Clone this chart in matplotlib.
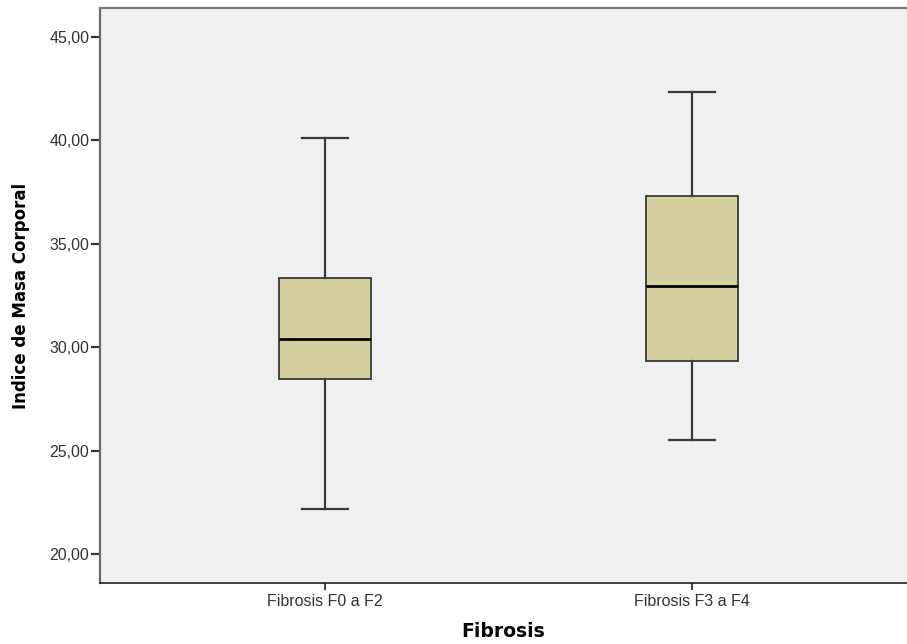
import matplotlib
matplotlib.use("Agg")
import matplotlib.pyplot as plt

plt.rcParams["font.family"] = ["DejaVu Sans"]

# box statistics
groups = ["Fibrosis F0 a F2", "Fibrosis F3 a F4"]
whisker_low = [22.2, 25.5]
q1 = [28.45, 29.35]
median = [30.4, 32.95]
q3 = [33.35, 37.3]
whisker_high = [40.1, 42.35]
yticks = [20, 25, 30, 35, 40, 45]

BOX_FILL = "#d3cf9f"
EDGE = "#3a3a3a"
TICK_FONT = ["Liberation Sans", "DejaVu Sans"]

fig = plt.figure(figsize=(9.07, 6.44), dpi=100)
ax = fig.add_axes([0.110, 0.0947, 0.890, 0.893])
ax.set_facecolor("#f0f0f0")

stats = []
for i, g in enumerate(groups):
    stats.append({
        "label": g, "whislo": whisker_low[i], "q1": q1[i], "med": median[i],
        "q3": q3[i], "whishi": whisker_high[i], "fliers": [],
    })

ax.bxp(
    stats, positions=[1, 2], widths=0.25, patch_artist=True, showfliers=False,
    boxprops=dict(facecolor=BOX_FILL, edgecolor=EDGE, linewidth=1.3),
    medianprops=dict(color="black", linewidth=2),
    whiskerprops=dict(color=EDGE, linewidth=1.6),
    capprops=dict(color=EDGE, linewidth=1.6),
    capwidths=0.125,
)

ax.set_xlim(0.387, 2.586)
ax.set_ylim(18.6, 46.4)
ax.set_yticks(yticks)
ax.set_yticklabels([f"{v:.2f}".replace(".", ",") for v in yticks])
for lbl in ax.get_xticklabels() + ax.get_yticklabels():
    lbl.set_family(TICK_FONT)

ax.spines["right"].set_visible(False)
ax.spines["left"].set_color("#6a6a6a")
ax.spines["top"].set_color("#7a7a7a")
ax.spines["left"].set_linewidth(1.6)
ax.spines["top"].set_linewidth(1.6)
ax.spines["bottom"].set_color("#222222")
ax.spines["bottom"].set_linewidth(1.2)

ax.tick_params(axis="y", length=6.5, width=1.6, color="#333333",
               labelsize=11.5, labelcolor="#333333", pad=1)
ax.tick_params(axis="x", length=5, width=1.3, color="#333333",
               labelsize=11.5, labelcolor="#333333", pad=3)

ax.set_ylabel("Indice de Masa Corporal", fontsize=12, fontweight="bold",
              labelpad=14)
ax.set_xlabel("Fibrosis", fontsize=13.5, fontweight="bold", labelpad=9)

fig.savefig("out.png", dpi=100)
